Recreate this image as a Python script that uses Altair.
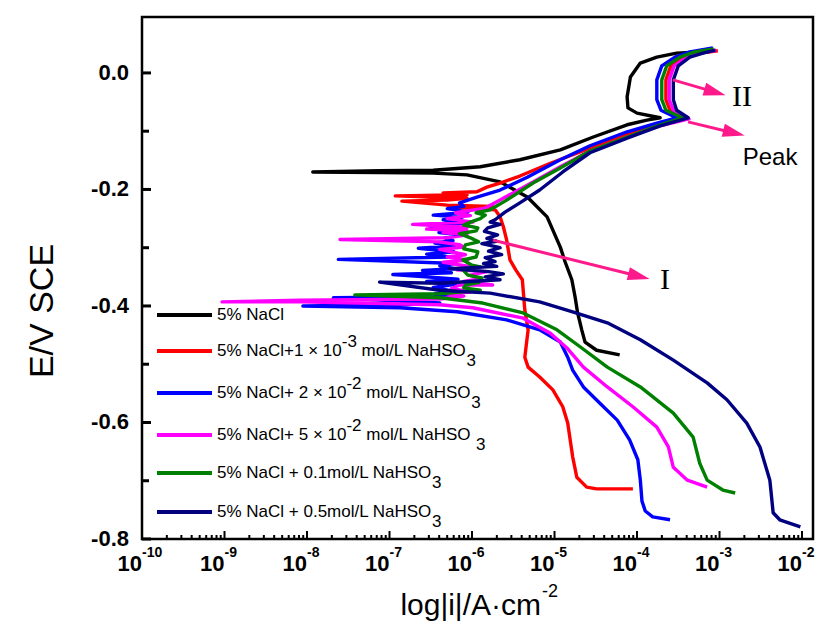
import altair as alt
import pandas as pd

# ---------------- data: (log10 |i| [A/cm2], E [V vs SCE]) ----------------
series_colors = ["#000000", "#FF0000", "#0000FF", "#FF00FF", "#008000", "#000080"]

black_pts = [(-4.21, -0.484), (-4.49, -0.476), (-4.63, -0.462), (-4.67, -0.441), (-4.72, -0.412), (-4.75, -0.385),
             (-4.79, -0.355), (-4.87, -0.325), (-4.93, -0.299), (-5.09, -0.247), (-5.33, -0.213), (-5.66, -0.187),
             (-6.06, -0.175), (-6.47, -0.172), (-7.12, -0.171), (-7.93, -0.170), (-7.12, -0.168), (-6.47, -0.167),
             (-5.90, -0.161), (-5.42, -0.149), (-4.93, -0.132), (-4.53, -0.110), (-4.12, -0.089), (-3.88, -0.081),
             (-3.72, -0.077), (-4.00, -0.069), (-4.11, -0.060), (-4.12, -0.041), (-4.08, -0.007), (-3.96, 0.017),
             (-3.76, 0.027), (-3.52, 0.034), (-3.24, 0.036), (-3.08, 0.038)]

red_pts = [(-4.05, -0.714), (-4.49, -0.714), (-4.61, -0.711), (-4.73, -0.694), (-4.78, -0.659), (-4.84, -0.601),
           (-4.90, -0.573), (-5.02, -0.544), (-5.18, -0.522), (-5.32, -0.505), (-5.36, -0.488), (-5.32, -0.441),
           (-5.36, -0.407), (-5.39, -0.355), (-5.47, -0.338), (-5.54, -0.321), (-5.58, -0.287), (-5.62, -0.264),
           (-5.66, -0.247), (-5.72, -0.235), (-6.20, -0.231), (-5.75, -0.229), (-6.30, -0.227), (-6.85, -0.220),
           (-6.30, -0.218), (-6.06, -0.215), (-6.93, -0.211), (-6.06, -0.209), (-6.35, -0.206), (-5.94, -0.204),
           (-5.82, -0.196), (-5.66, -0.189), (-5.42, -0.177), (-5.05, -0.155), (-4.57, -0.129), (-4.12, -0.105),
           (-3.72, -0.086), (-3.42, -0.077), (-3.60, -0.064), (-3.65, -0.046), (-3.65, -0.012), (-3.59, 0.012),
           (-3.43, 0.027), (-3.24, 0.034), (-3.02, 0.038)]

blue_pts = [(-3.60, -0.767), (-3.81, -0.762), (-3.90, -0.752), (-3.94, -0.735), (-3.96, -0.699), (-3.99, -0.664),
            (-4.09, -0.630),
            (-4.24, -0.596), (-4.45, -0.567), (-4.65, -0.539), (-4.78, -0.510), (-4.84, -0.488), (-4.93, -0.462),
            (-5.18, -0.441), (-5.58, -0.424), (-6.18, -0.410), (-6.87, -0.403), (-8.05, -0.400), (-6.87, -0.398),
            (-6.39, -0.395), (-7.68, -0.386), (-6.27, -0.384), (-6.45, -0.379), (-6.21, -0.375), (-6.47, -0.368),
            (-6.20, -0.363), (-6.55, -0.358), (-6.17, -0.354), (-6.96, -0.346), (-6.25, -0.343), (-6.60, -0.339),
            (-6.21, -0.336), (-6.39, -0.331), (-6.19, -0.327), (-7.62, -0.320), (-6.27, -0.316), (-6.55, -0.311),
            (-6.22, -0.307), (-6.65, -0.301), (-6.21, -0.297), (-6.45, -0.292), (-6.23, -0.288), (-6.33, -0.283),
            (-6.15, -0.278), (-6.40, -0.274), (-6.15, -0.270), (-6.51, -0.263), (-6.10, -0.258), (-6.35, -0.252),
            (-6.12, -0.248), (-6.47, -0.244), (-6.05, -0.239), (-6.30, -0.233), (-6.10, -0.229), (-6.15, -0.223),
            (-5.94, -0.213), (-5.66, -0.201), (-5.33, -0.179), (-4.93, -0.149), (-4.57, -0.125), (-4.12, -0.101),
            (-3.76, -0.086), (-3.52, -0.077), (-3.71, -0.064), (-3.76, -0.046), (-3.76, -0.012), (-3.70, 0.012),
            (-3.54, 0.027), (-3.36, 0.036), (-3.08, 0.043)]

magenta_pts = [(-3.15, -0.711), (-3.39, -0.699), (-3.56, -0.677), (-3.62, -0.642), (-3.76, -0.608), (-4.05, -0.573),
               (-4.36, -0.539), (-4.65, -0.505), (-4.85, -0.472), (-5.05, -0.447), (-5.38, -0.421), (-5.99, -0.403),
               (-6.39, -0.398), (-8.08, -0.393), (-9.03, -0.393), (-8.08, -0.390), (-6.39, -0.388), (-6.10, -0.383),
               (-6.30, -0.379), (-6.02, -0.376), (-6.25, -0.370), (-6.15, -0.364), (-5.75, -0.364), (-6.10, -0.358),
               (-5.90, -0.353), (-6.02, -0.347), (-5.82, -0.341), (-6.18, -0.338), (-6.00, -0.333), (-6.35, -0.325),
               (-6.05, -0.321), (-6.30, -0.316), (-6.08, -0.312), (-6.39, -0.303), (-6.10, -0.299), (-6.15, -0.295),
               (-6.40, -0.290), (-7.60, -0.286), (-6.30, -0.283), (-6.06, -0.278), (-6.35, -0.274), (-6.06, -0.271),
               (-6.55, -0.268), (-6.06, -0.265), (-6.72, -0.260), (-5.99, -0.256), (-6.30, -0.250), (-6.02, -0.245),
               (-6.20, -0.240), (-5.84, -0.232), (-5.66, -0.218), (-5.26, -0.187), (-4.93, -0.161), (-4.57, -0.134),
               (-4.12, -0.110), (-3.72, -0.091), (-3.37, -0.079), (-3.56, -0.064), (-3.61, -0.046), (-3.61, -0.012),
               (-3.55, 0.012), (-3.39, 0.027), (-3.24, 0.034), (-3.04, 0.039)]

green_pts = [(-2.81, -0.721), (-2.96, -0.716), (-3.15, -0.699), (-3.24, -0.670), (-3.32, -0.625), (-3.56, -0.584),
             (-3.96, -0.539), (-4.36, -0.505), (-4.69, -0.470), (-4.97, -0.441), (-5.38, -0.412), (-5.87, -0.395),
             (-6.39, -0.386), (-7.42, -0.381), (-6.39, -0.379), (-5.90, -0.373), (-6.10, -0.369), (-6.08, -0.364),
             (-5.92, -0.360), (-5.88, -0.352), (-6.05, -0.347), (-6.11, -0.338), (-5.90, -0.333), (-6.00, -0.330),
             (-6.11, -0.321), (-5.95, -0.316), (-5.93, -0.307), (-6.10, -0.302), (-6.08, -0.295), (-5.92, -0.290),
             (-6.02, -0.283), (-6.15, -0.276), (-5.95, -0.271), (-5.93, -0.266), (-6.10, -0.261), (-6.02, -0.256),
             (-5.90, -0.250), (-5.84, -0.244), (-5.95, -0.240), (-5.78, -0.235), (-5.60, -0.220), (-5.26, -0.189),
             (-4.93, -0.163), (-4.57, -0.134), (-4.12, -0.110), (-3.72, -0.089), (-3.45, -0.077), (-3.65, -0.064),
             (-3.70, -0.046), (-3.70, -0.012), (-3.64, 0.012), (-3.48, 0.027), (-3.30, 0.036), (-3.07, 0.041)]

navy_pts = [(-2.02, -0.779), (-2.27, -0.767), (-2.35, -0.755), (-2.39, -0.699), (-2.51, -0.642), (-2.67, -0.601),
            (-2.91, -0.561), (-3.15, -0.532), (-3.56, -0.493), (-3.96, -0.458), (-4.36, -0.429), (-4.78, -0.410),
            (-5.18, -0.393), (-5.78, -0.378), (-6.39, -0.373), (-7.12, -0.359), (-6.39, -0.361), (-5.66, -0.355),
            (-5.84, -0.350), (-5.62, -0.345), (-5.80, -0.341), (-6.27, -0.336), (-5.70, -0.332), (-5.86, -0.327),
            (-5.72, -0.324), (-5.84, -0.317), (-5.64, -0.312), (-5.80, -0.306), (-5.66, -0.300), (-5.88, -0.293),
            (-5.70, -0.289), (-5.82, -0.284), (-5.69, -0.278), (-5.85, -0.272), (-5.81, -0.266), (-5.66, -0.260),
            (-5.78, -0.256), (-5.72, -0.252), (-5.60, -0.239), (-5.42, -0.223), (-5.18, -0.201), (-4.90, -0.170),
            (-4.57, -0.137), (-4.12, -0.112), (-3.72, -0.091), (-3.38, -0.077), (-3.52, -0.064), (-3.56, -0.046),
            (-3.56, -0.012), (-3.50, 0.012), (-3.36, 0.027), (-3.20, 0.034), (-3.05, 0.039)]

curves = [black_pts, red_pts, blue_pts, magenta_pts, green_pts, navy_pts]

# axis ticks / labels
x_decades = list(range(-10, -1))
y_major = [0.0, -0.2, -0.4, -0.6, -0.8]
y_major_labels = ["0.0", "-0.2", "-0.4", "-0.6", "-0.8"]
y_minor = [-0.1, -0.3, -0.5, -0.7]

# annotations (log10 i, E)
arrow_start_logi = [-3.564, -3.382, -5.746]
arrow_start_E = [-0.012, -0.084, -0.287]
arrow_end_logi = [-3.055, -2.825, -3.976]
arrow_end_E = [-0.033, -0.103, -0.349]
arrow_angle = [16, 14, 14]
note_text = ["II", "Peak", "I"]
note_logi = [-2.727, -2.388, -3.661]
note_E = [-0.041, -0.146, -0.355]

legend_rows = [
    [("5% NaCl", "n")],
    [("5% NaCl+1 × 10", "n"), ("-3", "sup"), (" mol/L NaHSO", "n"), ("3", "sub")],
    [("5% NaCl+ 2 × 10", "n"), ("-2", "sup"), (" mol/L NaHSO", "n"), ("3", "sub")],
    [("5% NaCl+ 5 × 10", "n"), ("-2", "sup"), (" mol/L NaHSO ", "n"), ("3", "sub")],
    [("5% NaCl + 0.1mol/L NaHSO", "n"), ("3", "sub")],
    [("5% NaCl + 0.5mol/L NaHSO", "n"), ("3", "sub")],
]

# ---------------- layout ----------------
W, H = 671, 522
FONT = "Liberation Sans"
PINK = "#FF1A8C"

rows = []
for s, pts in enumerate(curves):
    for k, (a, b) in enumerate(pts):
        rows.append({"series": f"s{s}", "order": k, "i": 10 ** a, "E": b})
df = pd.DataFrame(rows)

xscale = alt.Scale(type="log", domain=[1e-10, 10 ** -1.867], nice=False)
yscale = alt.Scale(domain=[-0.8, 0.096], nice=False, zero=False)


def X(f):
    return alt.X(f, type="quantitative", scale=xscale, axis=None)


def Y(f):
    return alt.Y(f, type="quantitative", scale=yscale, axis=None)


lines = alt.Chart(df).mark_line(strokeWidth=3.4, strokeJoin="round", clip=True).encode(
    x=X("i"), y=Y("E"),
    color=alt.Color("series:N", scale=alt.Scale(domain=[f"s{k}" for k in range(6)], range=series_colors),
                    legend=None),
    order="order:Q", detail="series:N")

# ticks
dec_df = pd.DataFrame({"i": [10.0 ** k for k in x_decades], "base": "10", "exp": [str(k) for k in x_decades]})
minor_df = pd.DataFrame({"i": [m * 10.0 ** k for k in x_decades[:-1] for m in range(2, 10)]})
xmaj = alt.Chart(dec_df).mark_rule(strokeWidth=2, color="black").encode(
    x=X("i"), y=alt.value(H), y2=alt.value(H - 8))
xmin = alt.Chart(minor_df).mark_rule(strokeWidth=2, color="black").encode(
    x=X("i"), y=alt.value(H), y2=alt.value(H - 4))
ymaj_df = pd.DataFrame({"E": y_major, "lab": y_major_labels})
ymin_df = pd.DataFrame({"E": y_minor})
ymaj = alt.Chart(ymaj_df).mark_rule(strokeWidth=3, color="black").encode(
    y=Y("E"), x=alt.value(0), x2=alt.value(9))
ymin = alt.Chart(ymin_df).mark_rule(strokeWidth=3, color="black").encode(
    y=Y("E"), x=alt.value(0), x2=alt.value(7))

xlab_base = alt.Chart(dec_df).mark_text(align="right", baseline="middle", font=FONT, fontSize=22,
                                        fontWeight="bold", color="black").encode(
    x=X("i"), y=alt.value(H + 25), text="base:N")
xlab_exp = alt.Chart(dec_df).mark_text(align="left", baseline="middle", font=FONT, fontSize=14,
                                       fontWeight="bold", color="black").encode(
    x=X("i"), y=alt.value(H + 14), text="exp:N")
ylab = alt.Chart(ymaj_df).mark_text(align="right", baseline="middle", font=FONT, fontSize=22,
                                    fontWeight="bold", color="black").encode(
    y=Y("E"), x=alt.value(-13), text="lab:N")

one = pd.DataFrame({"a": [0]})
ytitle = alt.Chart(one).mark_text(text="E/V SCE", angle=270, align="center", baseline="middle",
                                  font=FONT, fontSize=34, color="black").encode(
    x=alt.value(-99), y=alt.value(294))
xtitle = alt.Chart(one).mark_text(text="log|i|/A·cm", align="right", baseline="middle",
                                  font=FONT, fontSize=30, color="black").encode(
    x=alt.value(399), y=alt.value(589))
xtitle_sup = alt.Chart(one).mark_text(text="-2", align="left", baseline="middle",
                                      font=FONT, fontSize=18, color="black").encode(
    x=alt.value(400), y=alt.value(575))

# arrows & notes
arr_df = pd.DataFrame({"i1": [10 ** v for v in arrow_start_logi], "E1": arrow_start_E,
                       "i2": [10 ** v for v in arrow_end_logi], "E2": arrow_end_E, "ang": arrow_angle})
arr_lines = alt.Chart(arr_df).mark_rule(strokeWidth=3, color=PINK).encode(
    x=X("i1"), x2="i2", y=Y("E1"), y2="E2")
arr_heads = alt.Chart(arr_df).mark_point(shape="M-1,-0.6L1,0L-1,0.6Z", filled=True, opacity=1,
                                         color=PINK, size=484, strokeWidth=0).encode(
    x=X("i2"), y=Y("E2"), angle=alt.Angle("ang:Q", scale=None))
note_df = pd.DataFrame({"i": [10 ** v for v in note_logi], "E": note_E, "t": note_text})
notes_roman = alt.Chart(note_df[note_df.t != "Peak"]).mark_text(
    font="Liberation Serif", fontSize=30, baseline="middle", align="center", color="black").encode(
    x=X("i"), y=Y("E"), text="t:N")
notes_peak = alt.Chart(note_df[note_df.t == "Peak"]).mark_text(
    font=FONT, fontSize=24, baseline="middle", align="center", color="black").encode(
    x=X("i"), y=Y("E"), text="t:N")

# legend (drawn by hand, with super/subscripts)
WID = {' ': 278, '%': 889, '+': 584, '-': 333, '.': 278, '/': 278, '×': 584, 'C': 722, 'H': 722, 'L': 556,
       'N': 722, 'O': 778, 'S': 667, 'a': 556, 'l': 222, 'm': 833, 'o': 556}
FS = 17


def tw(s):
    return sum(WID.get(c, 556) for c in s) * FS / 1000.0


legend_y = [298, 334, 376, 418, 456, 495]
leg_layers = []
for r, (segs, ry) in enumerate(zip(legend_rows, legend_y)):
    leg_layers.append(alt.Chart(one).mark_rule(strokeWidth=4, color=series_colors[r]).encode(
        x=alt.value(15), x2=alt.value(70), y=alt.value(ry)))
    xpos = 75.0
    for txt, kind in segs:
        lead = len(txt) - len(txt.lstrip(" "))
        xpos += tw(" " * lead)
        core = txt.strip(" ")
        dy = {"n": 0, "sup": -9, "sub": 10}[kind]
        leg_layers.append(alt.Chart(one).mark_text(text=core, align="left", baseline="middle", font=FONT,
                                                   fontSize=FS, color="black").encode(
            x=alt.value(xpos), y=alt.value(ry + dy)))
        xpos += tw(txt.lstrip(" "))

chart = alt.layer(xmin, xmaj, ymin, ymaj, lines, arr_lines, arr_heads, notes_roman, notes_peak,
                  xlab_base, xlab_exp, ylab, ytitle, xtitle, xtitle_sup, *leg_layers).properties(
    width=W, height=H, autosize=alt.AutoSizeParams(type="none"),
    padding={"left": 134, "top": 9, "right": 3, "bottom": 86},
    background="white"
).configure_view(stroke="black", strokeWidth=2.5)

chart.save("out.html", embed_options={"renderer": "svg", "actions": False})
